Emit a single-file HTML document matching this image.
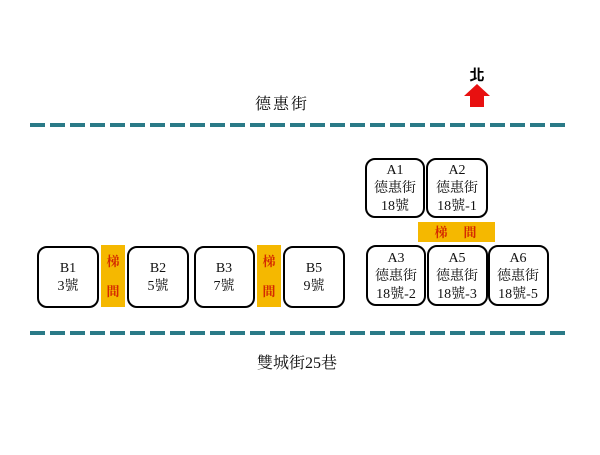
<!DOCTYPE html>
<html><head><meta charset="utf-8"><style>
body{margin:0;background:#fff;}
svg text{font-family:"Liberation Serif","Noto Serif CJK SC",serif;}
</style></head><body>
<svg width="600" height="450" viewBox="0 0 600 450">
<rect width="600" height="450" fill="#fff"/>
<line x1="30" y1="125" x2="567" y2="125" stroke="#2a7a87" stroke-width="4" stroke-dasharray="15,5"/>
<line x1="30" y1="333" x2="567" y2="333" stroke="#2a7a87" stroke-width="4" stroke-dasharray="15,5"/>
<text x="282" y="109" font-size="16" text-anchor="middle" fill="#111" letter-spacing="2">德惠街</text>
<text x="297" y="368" font-size="16" text-anchor="middle" fill="#111">雙城街25巷</text>
<text x="477" y="80" font-size="15" font-weight="bold" text-anchor="middle" style="font-family:'Liberation Sans','Noto Sans CJK TC',sans-serif">北</text>
<polygon points="477,84 490,96 484,96 484,107 470,107 470,96 464,96" fill="#e81010"/>
<g fill="#fff" stroke="#000" stroke-width="2">
<rect x="38" y="247" width="60" height="60" rx="9"/>
<rect x="128" y="247" width="60" height="60" rx="9"/>
<rect x="195" y="247" width="59" height="60" rx="9"/>
<rect x="284" y="247" width="60" height="60" rx="9"/>
<rect x="366" y="159" width="58" height="58" rx="9"/>
<rect x="427" y="159" width="60" height="58" rx="9"/>
<rect x="367" y="246" width="58" height="59" rx="9"/>
<rect x="428" y="246" width="59" height="59" rx="9"/>
<rect x="489" y="246" width="59" height="59" rx="9"/>
</g>
<g fill="#f5b800">
<rect x="101" y="245" width="24" height="62"/>
<rect x="257" y="245" width="24" height="62"/>
<rect x="418" y="222" width="77" height="20"/>
</g>
<g fill="#d42a00" font-size="13" text-anchor="middle" font-weight="bold">
<text x="113" y="266">梯</text><text x="113" y="296">間</text>
<text x="269" y="266">梯</text><text x="269" y="296">間</text>
<text x="441" y="237">梯</text><text x="470" y="237">間</text>
</g>
<g font-size="14" text-anchor="middle" fill="#111">
<text x="68" y="272">B1</text><text x="68" y="290">3號</text>
<text x="158" y="272">B2</text><text x="158" y="290">5號</text>
<text x="224" y="272">B3</text><text x="224" y="290">7號</text>
<text x="314" y="272">B5</text><text x="314" y="290">9號</text>
<text x="395" y="174">A1</text><text x="395" y="192">德惠街</text><text x="395" y="210">18號</text>
<text x="457" y="174">A2</text><text x="457" y="192">德惠街</text><text x="457" y="210">18號-1</text>
<text x="396" y="262">A3</text><text x="396" y="280">德惠街</text><text x="396" y="298">18號-2</text>
<text x="457" y="262">A5</text><text x="457" y="280">德惠街</text><text x="457" y="298">18號-3</text>
<text x="518" y="262">A6</text><text x="518" y="280">德惠街</text><text x="518" y="298">18號-5</text>
</g>
</svg>
</body></html>
